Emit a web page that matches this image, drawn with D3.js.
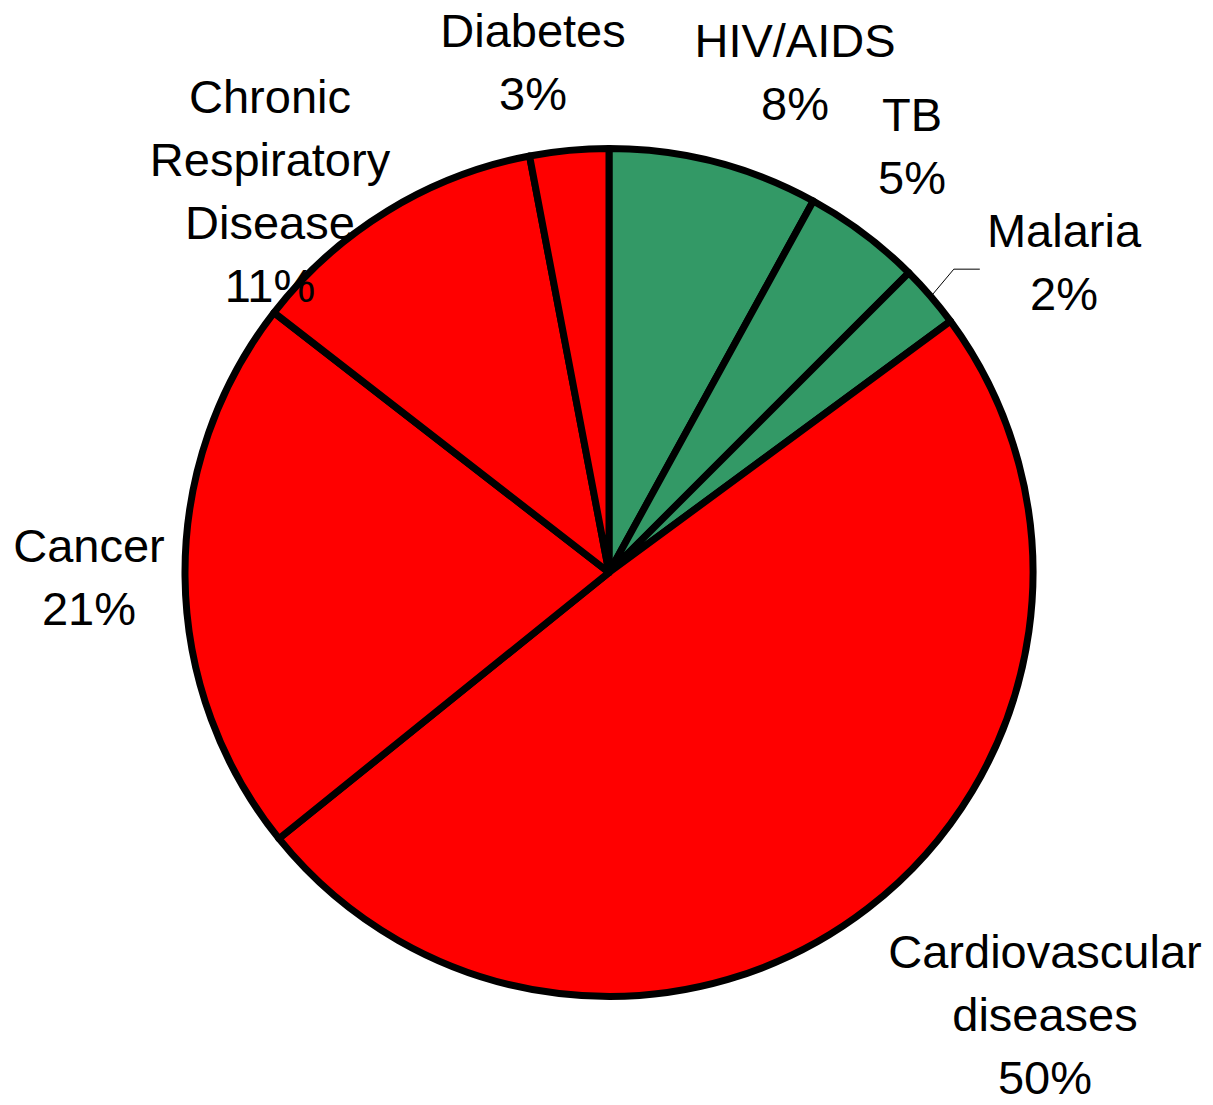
<!DOCTYPE html>
<html>
<head>
<meta charset="utf-8">
<script src="https://cdn.jsdelivr.net/npm/d3@7"></script>
<style>
  html, body { margin: 0; padding: 0; background: #fff; }
  svg { display: block; }
</style>
</head>
<body>
<div id="chart"></div>
<script>
// ---- data ----
const categories = ["HIV/AIDS", "TB", "Malaria", "Cardiovascular diseases", "Cancer", "Chronic Respiratory Disease", "Diabetes"];
const values = [8.0, 4.5, 2.4, 49.3, 21.3, 11.5, 3.0];
const pctLabels = ["8%", "5%", "2%", "50%", "21%", "11%", "3%"];
const groups = ["communicable", "communicable", "communicable", "chronic", "chronic", "chronic", "chronic"];
const labelLines = [["HIV/AIDS"], ["TB"], ["Malaria"], ["Cardiovascular", "diseases"], ["Cancer"], ["Chronic", "Respiratory", "Disease"], ["Diabetes"]];

// ---- layout ----
const W = 1213, H = 1105;
const cx = 609, cy = 572.5, R = 424;
const fontSize = 47, lineH = 63;
const colors = { communicable: "#339966", chronic: "#ff0000" };
// label block anchor: centre x, first baseline y
const labelAnchor = [
  [795, 57], [912, 131], [1064, 247], [1045, 968], [89, 562], [270, 113], [533, 47]
];

const svg = d3.select("#chart").append("svg")
  .attr("width", W).attr("height", H);

const data = categories.map((c, i) => ({ name: c, value: values[i], group: groups[i], i }));

const pie = d3.pie().sort(null).value(d => d.value).startAngle(0).endAngle(2 * Math.PI);
const arc = d3.arc().innerRadius(0).outerRadius(R);
const arcs = pie(data);

const g = svg.append("g").attr("transform", `translate(${cx},${cy})`);
g.selectAll("path.slice").data(arcs).enter().append("path")
  .attr("class", "slice")
  .attr("d", arc)
  .attr("fill", d => colors[d.data.group])
  .attr("stroke", "#000")
  .attr("stroke-width", 7)
  .attr("stroke-linejoin", "round");

// leader line for Malaria
const mal = arcs[2];
const midA = (mal.startAngle + mal.endAngle) / 2;
const p0 = [Math.sin(midA) * (R + 3), -Math.cos(midA) * (R + 3)];
const p1 = [Math.sin(midA) * (R + 3) + 21, -Math.cos(midA) * (R + 3) - 25];
const p2 = [p1[0] + 26, p1[1]];
g.append("polyline")
  .attr("points", [p0, p1, p2].map(p => p.join(",")).join(" "))
  .attr("fill", "none")
  .attr("stroke", "#000")
  .attr("stroke-width", 1);

// labels
const lg = svg.append("g")
  .attr("font-family", "'Liberation Sans', Arial, sans-serif")
  .attr("font-size", fontSize)
  .attr("fill", "#000")
  .attr("text-anchor", "middle");

data.forEach((d, i) => {
  const lines = labelLines[i].concat([pctLabels[i]]);
  const [x, y] = labelAnchor[i];
  const t = lg.append("text").attr("x", x).attr("y", y);
  lines.forEach((ln, k) => {
    t.append("tspan").attr("x", x).attr("y", y + k * lineH).text(ln);
  });
});
</script>
</body>
</html>
